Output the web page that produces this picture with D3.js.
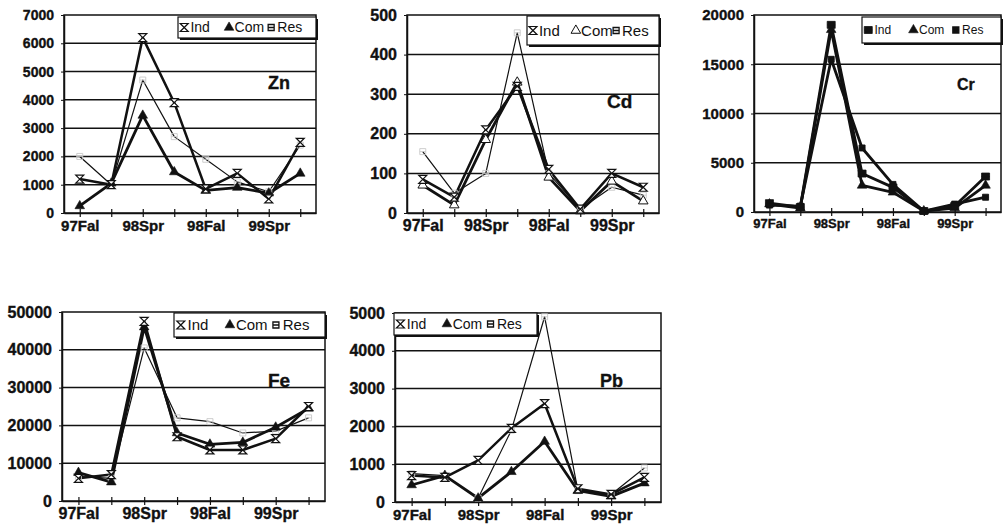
<!DOCTYPE html>
<html>
<head>
<meta charset="utf-8">
<script src="https://cdn.jsdelivr.net/npm/d3@7"></script>
<style>
  body { margin: 0; background: #fff; }
  svg { display: block; }
</style>
</head>
<body>
<script>
// sampling events, only every second one carries a label on the axis
var xLabels = ['97Fal', '', '98Spr', '', '98Fal', '', '99Spr', '']
var seriesNames = ['Ind', 'Com', 'Res']

// values
var znInd = [1200, 1000, 6200, 3900, 850, 1400, 500, 2500]
var znCom = [250, 1050, 3450, 1450, 800, 900, 700, 1400]
var znRes = [2000, 1000, 4700, 2700, 1900, 1100, 750, 2400]

var cdInd = [85, 40, 210, 320, 110, 10, 100, 65]
var cdCom = [70, 20, 185, 330, 90, 5, 80, 30]
var cdRes = [155, 50, 100, 455, 100, 10, 65, 45]

var crInd = [900, 500, 19000, 3900, 2500, 100, 600, 3600]
var crCom = [800, 400, 18500, 2700, 2000, 100, 400, 2700]
var crRes = [700, 600, 15500, 6500, 2800, 100, 800, 1500]

var feInd = [6000, 7000, 47500, 17000, 13500, 13500, 16500, 25000]
var feCom = [7500, 5000, 46000, 18000, 15000, 15500, 19500, 24500]
var feRes = [6500, 6000, 40500, 22000, 21000, 18000, 18500, 22000]

var pbInd = [700, 650, 1100, 1950, 2600, 350, 200, 650]
var pbCom = [450, 700, 100, 800, 1600, 300, 150, 500]
var pbRes = [750, 700, 100, 1900, 4900, 300, 200, 900]

// layout of each small chart: plot box [x0, y0, x1, y1], fonts, label, legend box
var panels = [
  {name: 'Zn', data: [znInd, znCom, znRes], max: 7000, step: 1000,
   box: [64, 15, 316, 213], yFont: 14, xFont: 15, label: [268, 89, 18],
   legend: [178, 17, 316, 38, 14], style: 'plain'},
  {name: 'Cd', data: [cdInd, cdCom, cdRes], max: 500, step: 100,
   box: [407, 15, 659, 213], yFont: 16, xFont: 16, label: [607, 108, 19],
   legend: [527, 16, 659, 45, 15], style: 'open'},
  {name: 'Cr', data: [crInd, crCom, crRes], max: 20000, step: 5000,
   box: [754, 15, 1001, 212], yFont: 15, xFont: 13, label: [957, 90, 16],
   legend: [862, 17, 1001, 43, 12], style: 'solid'},
  {name: 'Fe', data: [feInd, feCom, feRes], max: 50000, step: 10000,
   box: [62, 312, 325, 501], yFont: 16, xFont: 16, label: [268, 387, 19],
   legend: [174, 313, 325, 337, 15], style: 'plain'},
  {name: 'Pb', data: [pbInd, pbCom, pbRes], max: 5000, step: 1000,
   box: [395, 313, 661, 502], yFont: 16, xFont: 15, label: [600, 387, 18],
   legend: [394, 313, 537, 335, 14], style: 'plain'}
]

var ink = '#111'
var font = 'Liberation Sans, Arial, Helvetica, sans-serif'

var svg = d3.select('body').append('svg')
  .attr('width', 1004)
  .attr('height', 524)
  .style('font-family', font)

var hourglass = 'M-4,-4H4L-4,4H4Z'
var boxCross = 'M-3,-3H3V3H-3Z M-3,0H3'
var triangle = d3.symbol(d3.symbolTriangle, 40)()

// scanned print looks heavy, so bold text gets a thin outline
function heavy(sel, size) {
  sel.attr('fill', ink)
    .attr('stroke', ink)
    .attr('stroke-width', 0.35)
    .style('font-family', font)
    .style('font-size', size + 'px')
    .style('font-weight', 'bold')
}

// marker drawing for a series index in a given panel style
function marker(sel, s, style, inLegend) {
  if (s === 0) {
    sel.append('path')
      .attr('d', style === 'solid' ? 'M-4,-3.5H4V3.5H-4Z M-4,0H4' : hourglass)
      .attr('fill', style === 'solid' ? ink : '#fff')
      .attr('stroke', ink)
      .attr('stroke-width', style === 'solid' ? 0.8 : 1.2)
  } else if (s === 1) {
    sel.append('path')
      .attr('d', triangle)
      .attr('fill', style === 'open' ? '#fff' : ink)
      .attr('stroke', ink)
      .attr('stroke-width', style === 'open' ? 1 : 0.6)
  } else {
    sel.append('path')
      .attr('d', boxCross)
      .attr('fill', style === 'solid' ? ink : (inLegend ? '#fff' : 'none'))
      .attr('stroke', inLegend || style === 'solid' ? ink : '#c8c8c8')
      .attr('stroke-width', inLegend ? 1.3 : 0.9)
  }
}

panels.forEach(function(p) {

  var g = svg.append('g')
  var x0 = p.box[0], y0 = p.box[1], x1 = p.box[2], y1 = p.box[3]

  var x = d3.scalePoint()
    .domain(d3.range(xLabels.length))
    .range([x0, x1])
    .padding(0.5)

  var y = d3.scaleLinear()
    .domain([0, p.max])
    .range([y1, y0])

  var ticks = d3.range(0, p.max + 1, p.step)

  // horizontal gridlines
  g.selectAll('.grid')
    .data(ticks.slice(1, -1))
    .enter().append('line')
    .attr('x1', x0).attr('x2', x1)
    .attr('y1', d => y(d)).attr('y2', d => y(d))
    .attr('stroke', ink)
    .attr('stroke-width', 1.5)

  // plot frame
  g.append('rect')
    .attr('x', x0).attr('y', y0)
    .attr('width', x1 - x0).attr('height', y1 - y0)
    .attr('fill', 'none')
    .attr('stroke', ink)
    .attr('stroke-width', 1.5)

  // y axis
  var yAxis = d3.axisLeft(y)
    .tickValues(ticks)
    .tickFormat(d3.format('d'))
    .tickSizeInner(3)
    .tickSizeOuter(0)
    .tickPadding(7)

  var ya = g.append('g')
    .attr('transform', 'translate(' + x0 + ',0)')
    .call(yAxis)
  ya.select('.domain').attr('stroke', ink).attr('stroke-width', 1.5)
  ya.selectAll('.tick line').attr('stroke', ink)
  ya.selectAll('text').call(heavy, p.yFont)

  // x axis, ticks cross the axis at each sampling event
  var xAxis = d3.axisBottom(x)
    .tickFormat(i => xLabels[i])
    .tickSizeInner(4)
    .tickSizeOuter(0)
    .tickPadding(3)

  var xa = g.append('g')
    .attr('transform', 'translate(0,' + y1 + ')')
    .call(xAxis)
  xa.select('.domain').attr('stroke', ink).attr('stroke-width', 1.5)
  xa.selectAll('.tick line').attr('y1', -4).attr('stroke', ink).attr('stroke-width', 1.2)
  xa.selectAll('text').call(heavy, p.xFont)

  // series lines, residential first so industrial sits on top
  var widths = [2.5, 2.8, 1.2]
  var line = d3.line()
    .x((d, i) => x(i))
    .y(d => y(d))

  ;[2, 1, 0].forEach(function(s) {
    g.append('path')
      .datum(p.data[s])
      .attr('d', line)
      .attr('fill', 'none')
      .attr('stroke', ink)
      .attr('stroke-width', p.style === 'solid' ? 2.8 : widths[s])
      .attr('stroke-linejoin', 'round')
  })

  ;[2, 1, 0].forEach(function(s) {
    g.selectAll('.m' + s)
      .data(p.data[s])
      .enter().append('g')
      .attr('transform', (d, i) => 'translate(' + x(i) + ',' + y(d) + ')')
      .each(function() { marker(d3.select(this), s, p.style, false) })
  })

  // element name
  g.append('text')
    .attr('x', p.label[0])
    .attr('y', p.label[1])
    .call(heavy, p.label[2])
    .text(p.name)

  // legend with a small drop shadow
  var L = p.legend
  var lw = L[2] - L[0], lh = L[3] - L[1]
  var lg = g.append('g').attr('transform', 'translate(' + L[0] + ',' + L[1] + ')')
  lg.append('rect')
    .attr('x', 2).attr('y', 2)
    .attr('width', lw).attr('height', lh)
    .attr('fill', ink)
  lg.append('rect')
    .attr('width', lw).attr('height', lh)
    .attr('fill', '#fff')
    .attr('stroke', ink)
    .attr('stroke-width', 1.2)

  var slots = [[0.045, 0.09], [0.37, 0.41], [0.675, 0.72]]
  seriesNames.forEach(function(n, s) {
    var item = lg.append('g')
      .attr('transform', 'translate(' + (slots[s][0] * lw) + ',' + (lh / 2) + ')')
    marker(item, s, p.style, true)
    lg.append('text')
      .attr('x', slots[s][1] * lw)
      .attr('y', lh / 2)
      .attr('dy', '0.35em')
      .attr('fill', ink)
      .style('font-size', L[4] + 'px')
      .text(n)
  })
})
</script>
</body>
</html>
